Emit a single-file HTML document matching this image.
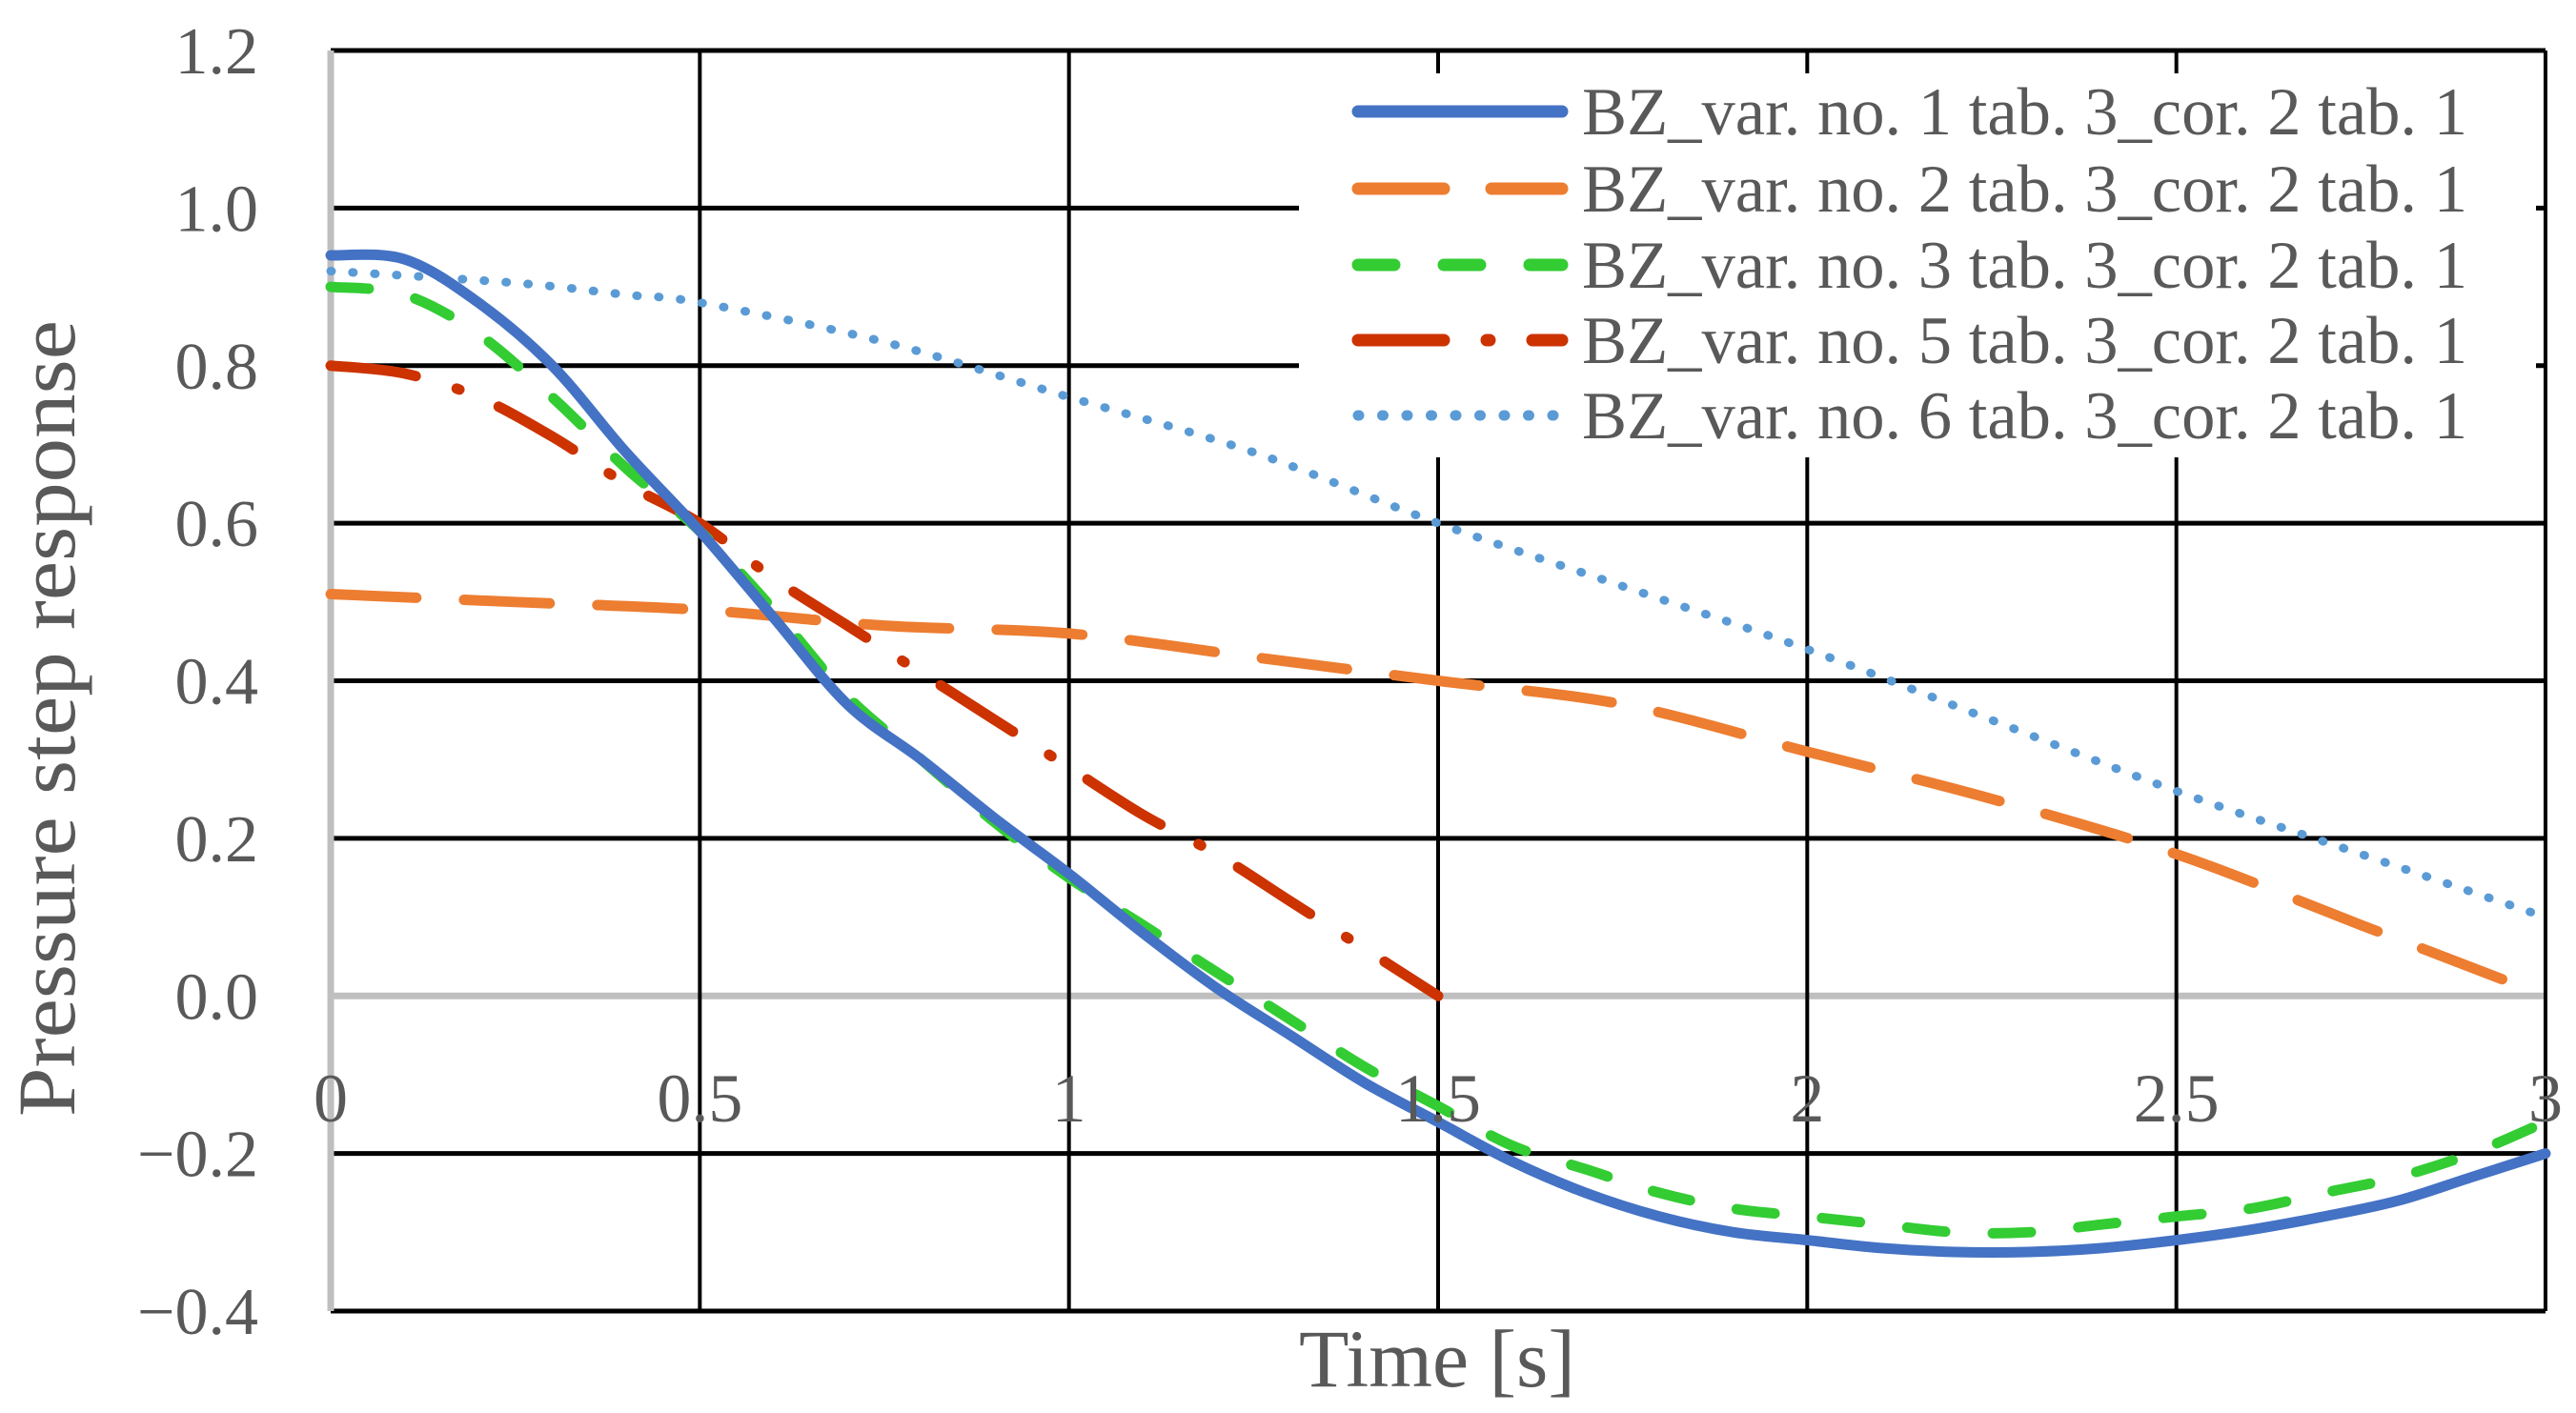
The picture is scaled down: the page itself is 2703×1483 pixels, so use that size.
<!DOCTYPE html>
<html><head><meta charset="utf-8"><style>
html,body{margin:0;padding:0;background:#fff;}
svg{display:block;}
text{font-family:"Liberation Serif",serif;fill:#595959;}
</style></head><body>
<svg id="chart" width="2703" height="1483" viewBox="0 0 2703 1483" xmlns="http://www.w3.org/2000/svg">
<g id="grid"></g>
<g id="series"></g>
<g id="ticks"></g>
<g id="legend"></g>
<text x="1508" y="1455" font-size="86" text-anchor="middle" textLength="290" lengthAdjust="spacingAndGlyphs">Time [s]</text>
<text transform="translate(78,754) rotate(-90)" font-size="86" text-anchor="middle" textLength="836" lengthAdjust="spacingAndGlyphs">Pressure step response</text>
</svg>
<script>
const xTicks = [0, 0.5, 1, 1.5, 2, 2.5, 3];
const xTickLabels = ["0", "0.5", "1", "1.5", "2", "2.5", "3"];
const yTicks = [-0.4, -0.2, 0, 0.2, 0.4, 0.6, 0.8, 1.0, 1.2];
const yTickLabels = ["\u22120.4", "\u22120.2", "0.0", "0.2", "0.4", "0.6", "0.8", "1.0", "1.2"];
const seriesNames = ["BZ_var. no. 1 tab. 3_cor. 2 tab. 1","BZ_var. no. 2 tab. 3_cor. 2 tab. 1","BZ_var. no. 3 tab. 3_cor. 2 tab. 1","BZ_var. no. 5 tab. 3_cor. 2 tab. 1","BZ_var. no. 6 tab. 3_cor. 2 tab. 1"];
const t1 = [0,0.1,0.2,0.3,0.4,0.5,0.6,0.7,0.8,0.9,1.0,1.1,1.2,1.3,1.4,1.5,1.6,1.7,1.8,1.9,2.0,2.1,2.2,2.3,2.4,2.5,2.6,2.7,2.8,2.9,3.0];
const v1 = [0.94,0.935,0.88,0.80,0.69,0.59,0.48,0.37,0.30,0.225,0.155,0.08,0.01,-0.05,-0.11,-0.16,-0.21,-0.25,-0.28,-0.30,-0.31,-0.32,-0.325,-0.325,-0.32,-0.31,-0.297,-0.28,-0.26,-0.23,-0.20];
const t2 = [0,0.25,0.5,0.75,1.0,1.25,1.5,1.75,2.0,2.25,2.5,2.75,3.0];
const v2 = [0.51,0.50,0.49,0.47,0.46,0.43,0.40,0.37,0.31,0.25,0.18,0.09,0.0];
const t3 = [0,0.1,0.2,0.3,0.4,0.5,0.6,0.7,0.8,0.9,1.0,1.1,1.2,1.3,1.4,1.5,1.6,1.7,1.8,1.9,2.0,2.1,2.2,2.3,2.4,2.5,2.6,2.7,2.8,2.9,3.0];
const v3 = [0.90,0.89,0.84,0.76,0.67,0.59,0.49,0.38,0.30,0.22,0.15,0.09,0.03,-0.03,-0.09,-0.14,-0.19,-0.22,-0.25,-0.27,-0.28,-0.29,-0.30,-0.30,-0.29,-0.28,-0.27,-0.25,-0.23,-0.20,-0.16];
const t5 = [0,0.1,0.2,0.3,0.4,0.5,0.6,0.7,0.8,0.9,1.0,1.1,1.2,1.3,1.4,1.5];
const v5 = [0.80,0.79,0.76,0.71,0.65,0.60,0.53,0.47,0.41,0.35,0.29,0.23,0.18,0.12,0.06,0.0];
const t6 = [0,0.25,0.4,0.5,0.75,1.0,1.25,1.5,1.75,2.0,2.25,2.5,2.75,3.0];
const v6 = [0.92,0.905,0.89,0.88,0.83,0.76,0.69,0.60,0.52,0.44,0.35,0.26,0.18,0.10];

const NS = "http://www.w3.org/2000/svg";
const X0 = 347, X1 = 2671, Y0 = 1376, Y1 = 53;
const xs = t => X0 + (t - 0) / 3 * (X1 - X0);
const ys = v => Y0 - (v + 0.4) / 1.6 * (Y0 - Y1);
function mk(tag, attrs, parent) {
  const e = document.createElementNS(NS, tag);
  for (const k in attrs) e.setAttribute(k, attrs[k]);
  parent.appendChild(e);
  return e;
}
const grid = document.getElementById('grid');
yTicks.forEach((v, i) => {
  const g = mk('line', {x1: X0, x2: X1, y1: ys(v), y2: ys(v), stroke: v === 0 ? '#bfbfbf' : '#000', 'stroke-width': v === 0 ? 7 : 5}, grid);
  
  
});
xTicks.forEach((t, i) => {
  if (t === 0) return;
  const g = mk('line', {x1: xs(t), x2: xs(t), y1: Y1, y2: Y0, stroke: '#000', 'stroke-width': 4}, grid);
  
  
});
const ax = mk('line', {x1: X0, x2: X0, y1: Y1, y2: Y0, stroke: '#bfbfbf', 'stroke-width': 7}, grid);



const styles = [
  {c: '#4472c4', w: 11, d: ''},
  {c: '#ed7d31', w: 11, d: '90 50'},
  {c: '#33cc33', w: 11, d: '40 50'},
  {c: '#cc3300', w: 11, d: '90 45 3 45'},
  {c: '#5b9bd5', w: 9, d: '1 22'}
];
const data = [[t1, v1], [t2, v2], [t3, v3], [t5, v5], [t6, v6]];
const sg = document.getElementById('series');
const order = [1, 4, 3, 2, 0];
const names = ['series-var-1', 'series-var-2', 'series-var-3', 'series-var-5', 'series-var-6'];
order.forEach(i => {
  const [tt, vv] = data[i];
  const pts = tt.map((t, k) => [xs(t), ys(vv[k])]);
  let d = 'M' + pts[0][0] + ',' + pts[0][1];
  for (let k = 0; k < pts.length - 1; k++) {
    const p0 = pts[Math.max(0, k - 1)], p1 = pts[k], p2 = pts[k + 1], p3 = pts[Math.min(pts.length - 1, k + 2)];
    const c1 = [p1[0] + (p2[0] - p0[0]) / 6, p1[1] + (p2[1] - p0[1]) / 6];
    const c2 = [p2[0] - (p3[0] - p1[0]) / 6, p2[1] - (p3[1] - p1[1]) / 6];
    d += ' C' + c1 + ' ' + c2 + ' ' + p2;
  }
  const s = styles[i];
  const p = mk('path', {d: d, fill: 'none', stroke: s.c, 'stroke-width': s.w, 'stroke-linecap': 'round', 'stroke-linejoin': 'round'}, sg);
  if (s.d) p.setAttribute('stroke-dasharray', s.d);
  
  
});

const tk = document.getElementById('ticks');
yTicks.forEach((v, i) => {
  const t = mk('text', {x: 271, y: ys(v) + 24, 'font-size': 70, 'text-anchor': 'end'}, tk);
  t.textContent = yTickLabels[i];
  
  
});
xTicks.forEach((x, i) => {
  const t = mk('text', {x: xs(x), y: 1177, 'font-size': 72, 'text-anchor': 'middle'}, tk);
  t.textContent = xTickLabels[i];
  
  
});

const lg = document.getElementById('legend');
const bg = mk('rect', {x: 1363, y: 77, width: 1298, height: 403, fill: '#fff'}, lg);


const rowY = [117, 198, 278, 357, 436];
seriesNames.forEach((n, i) => {
  const s = styles[i];
  const g = mk('g', {}, lg);
  
  
  const l = mk('line', {x1: 1425, x2: 1639, y1: rowY[i], y2: rowY[i], stroke: s.c, 'stroke-width': i === 4 ? 11 : 13, 'stroke-linecap': 'round'}, g);
  if (i === 1) l.setAttribute('stroke-dasharray', '90 50');
  if (i === 2) l.setAttribute('stroke-dasharray', '38 52');
  if (i === 3) l.setAttribute('stroke-dasharray', '90 45 3 45');
  if (i === 4) l.setAttribute('stroke-dasharray', '1 24.5');
  
  
  const t = mk('text', {x: 1660, y: rowY[i] + 24, 'font-size': 71, textLength: 929, lengthAdjust: 'spacingAndGlyphs'}, g);
  t.textContent = n;
  
  
});
</script>
</body></html>
